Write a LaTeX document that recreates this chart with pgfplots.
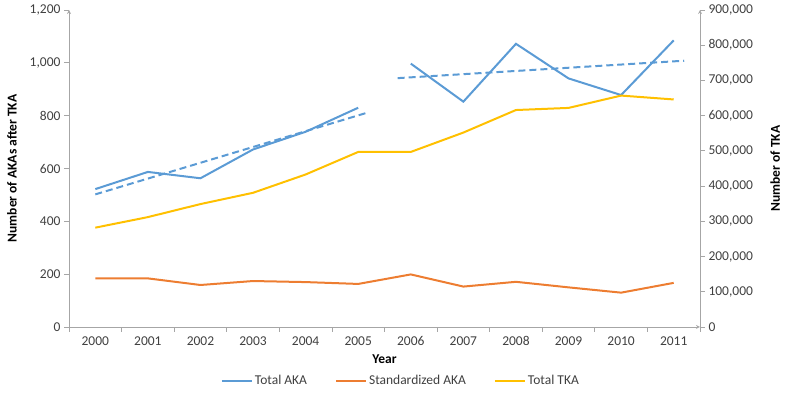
\documentclass[border=0pt]{standalone}
\usepackage{fontspec}
\setmainfont{Carlito}
\usepackage{pgfplots}
\pgfplotsset{compat=1.18}
\definecolor{AKAblue}{HTML}{5B9BD5}
\definecolor{STDorange}{HTML}{ED7D31}
\definecolor{TKAyellow}{HTML}{FFC000}
\definecolor{TickGray}{HTML}{404040}
\definecolor{LineGray}{HTML}{A6A6A6}

\newcommand{\chartfont}{\fontsize{13.5}{15}\selectfont}

\pgfplotsset{
  common/.style={
    at={(69pt,76pt)}, anchor=south west,
    width=631pt, height=317pt, scale only axis,
    xmin=-0.5, xmax=11.5,
    axis line style={LineGray, line width=0.8pt},
    tick style={LineGray, line width=0.8pt},
    tick label style={text=TickGray, font=\chartfont},
    /pgf/number format/fixed,
    /pgf/number format/assume math mode=true,
    /pgf/number format/1000 sep={,},
  },
}

\begin{document}
\begin{tikzpicture}[x=1pt,y=1pt]
\useasboundingbox (0,0) rectangle (785,403);
\begin{axis}[common,
    axis x line=bottom, axis y line=left,
    ymin=0, ymax=1200, ytick={0,200,...,1200},
    xtick={0,...,11},
    xticklabels={2000,2001,2002,2003,2004,2005,2006,2007,2008,2009,2010,2011},
    major x tick style={draw=none},
    minor xtick={-0.5,0.5,...,11.5},
    minor tick length=5pt,
    tick align=outside,
    major tick length=5pt,
    xlabel={Year},
    ylabel={Number of AKAs after TKA},
    xlabel style={at={(axis description cs:0.5,-0.101)}, anchor=center, font=\chartfont\bfseries},
    ylabel style={at={(axis description cs:-0.0903,0.5)}, anchor=center, font=\chartfont\bfseries},
    xticklabel style={yshift=-1pt},
  ]
  \addplot[AKAblue, line width=2pt] coordinates {
    (0,522) (1,587) (2,563) (3,672) (4,739) (5,830)};
  \addplot[AKAblue, line width=2pt, forget plot] coordinates {
    (6,997) (7,853) (8,1072) (9,941) (10,878) (11,1085)};
  \addplot[AKAblue, line width=2pt, dash pattern=on 7pt off 4pt, forget plot] coordinates {
    (0,502) (5.15,810)};
  \addplot[AKAblue, line width=2pt, dash pattern=on 7pt off 4pt, forget plot] coordinates {
    (5.75,942) (11.2,1008)};
  \addplot[STDorange, line width=2pt] coordinates {
    (0,184) (1,184) (2,159) (3,174) (4,170) (5,163)
    (6,199) (7,153) (8,171) (9,150) (10,130) (11,167)};
\end{axis}
\begin{axis}[common,
    axis x line=none, axis y line=right,
    ymin=0, ymax=900000, ytick={0,100000,...,900000},
    scaled y ticks=false,
    tick align=outside, major tick length=5pt,
    ylabel={Number of TKA},
    ylabel style={at={(axis description cs:1.119,0.5)}, anchor=center, font=\chartfont\bfseries},
    legend columns=3,
    legend style={at={(axis description cs:0.526,-0.170)}, anchor=center,
      draw=none, fill=none, font=\chartfont, text=TickGray,
      /tikz/every even column/.append style={column sep=26pt}},
    legend image code/.code={\draw[#1] (0pt,0pt) -- (30pt,0pt);},
  ]
  \addlegendimage{AKAblue, line width=2pt}
  \addlegendentry{Total AKA}
  \addlegendimage{STDorange, line width=2pt}
  \addlegendentry{Standardized AKA}
  \addplot[TKAyellow, line width=2pt] coordinates {
    (0,282000) (1,312000) (2,349000) (3,381000) (4,433000) (5,497000)
    (6,497000) (7,552000) (8,616000) (9,622000) (10,657000) (11,646000)};
  \addlegendentry{Total TKA}
\end{axis}
\end{tikzpicture}
\end{document}
